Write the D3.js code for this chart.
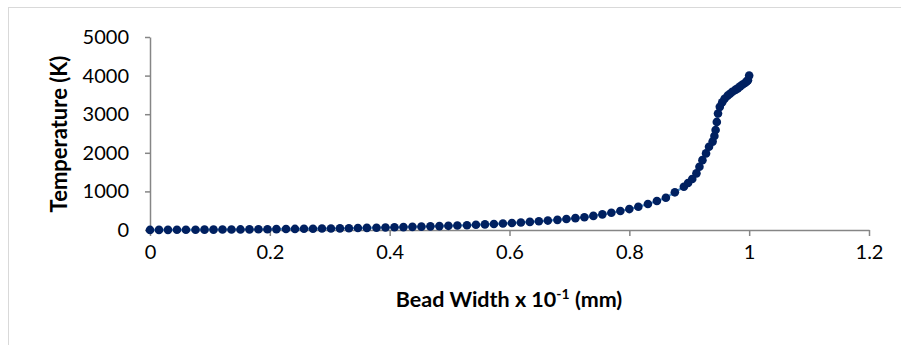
<!DOCTYPE html>
<html>
<head>
<meta charset="utf-8">
<script src="https://cdn.jsdelivr.net/npm/d3@7/dist/d3.min.js"></script>
<style>
  html, body { margin: 0; padding: 0; background: #fff; }
  svg { display: block; }
  text { font-family: Lato, "Open Sans", sans-serif; fill: #000; }
</style>
</head>
<body>
<svg id="chart" width="901" height="345"></svg>
<script>
// Bead width (x 10^-1 mm) and computed temperature (K) along the bead
const beadWidth = [
  0.000, 0.015, 0.030, 0.045, 0.060, 0.076, 0.091, 0.106, 0.121, 0.136,
  0.151, 0.166, 0.181, 0.196, 0.211, 0.227, 0.242, 0.257, 0.272, 0.287,
  0.302, 0.317, 0.332, 0.347, 0.362, 0.378, 0.393, 0.408, 0.423, 0.438,
  0.453, 0.468, 0.483, 0.498, 0.513, 0.529, 0.544, 0.559, 0.574, 0.589,
  0.604, 0.619, 0.634, 0.649, 0.664, 0.680, 0.695, 0.710, 0.725, 0.740,
  0.755, 0.770, 0.785, 0.800, 0.815, 0.831, 0.846, 0.861, 0.876, 0.891,
  0.898, 0.905, 0.912, 0.917, 0.922, 0.928, 0.933, 0.939, 0.942, 0.944,
  0.946, 0.948, 0.951, 0.955, 0.959, 0.964, 0.968, 0.972, 0.977, 0.981,
  0.985, 0.989, 0.993, 0.996, 0.998, 1.000
];
const temperature = [
  2, 3, 4, 5, 6, 8, 9, 10, 12, 13,
  15, 17, 19, 21, 23, 26, 28, 31, 34, 37,
  40, 43, 47, 51, 55, 60, 65, 70, 75, 81,
  87, 94, 101, 108, 116, 125, 135, 145, 156, 168,
  181, 195, 210, 226, 244, 263, 284, 307, 332, 365,
  405, 447, 492, 542, 603, 673, 751, 837, 976, 1121,
  1217, 1321, 1468, 1640, 1810, 1985, 2155, 2290, 2435, 2590,
  2800, 3020, 3190, 3310, 3400, 3480, 3530, 3580, 3630, 3670,
  3720, 3770, 3810, 3850, 3880, 4000
];

const xTicks = [0, 0.2, 0.4, 0.6, 0.8, 1, 1.2];
const xTickLabels = ["0", "0.2", "0.4", "0.6", "0.8", "1", "1.2"];
const yTicks = [0, 1000, 2000, 3000, 4000, 5000];
const yTickLabels = ["0", "1000", "2000", "3000", "4000", "5000"];

const points = beadWidth.map((w, i) => ({ x: w, y: temperature[i] }));

const svg = d3.select("#chart");

// chart area frame
svg.append("rect")
  .attr("x", 8.5).attr("y", 7.5)
  .attr("width", 1000).attr("height", 1000)
  .attr("fill", "none").attr("stroke", "#d9d9d9").attr("stroke-width", 1);

const x = d3.scaleLinear().domain([0, 1.2]).range([150, 869]);
const y = d3.scaleLinear().domain([0, 5000]).range([230, 37]);

const axisColor = "#868686";

const xAxis = svg.append("g")
  .attr("transform", `translate(0,${y(0)})`)
  .call(d3.axisBottom(x).tickValues(xTicks)
    .tickFormat((d, i) => xTickLabels[i]).tickSize(6).tickPadding(9).tickSizeOuter(0));

const yAxis = svg.append("g")
  .attr("transform", `translate(${x(0)},0)`)
  .call(d3.axisLeft(y).tickValues(yTicks)
    .tickFormat((d, i) => yTickLabels[i]).tickSize(5).tickPadding(16).tickSizeOuter(0));

[xAxis, yAxis].forEach(g => {
  g.select(".domain").attr("stroke", axisColor).attr("stroke-width", 1.5);
  g.selectAll(".tick line").attr("stroke", axisColor).attr("stroke-width", 1.5);
  g.selectAll(".tick text")
    .attr("font-family", "Lato, 'Open Sans', sans-serif")
    .attr("font-size", 20).attr("fill", "#000");
});

// connecting line under the markers
svg.append("path")
  .datum(points)
  .attr("fill", "none")
  .attr("stroke", "#5b9bd5")
  .attr("stroke-width", 2.25)
  .attr("d", d3.line().x(d => x(d.x)).y(d => y(d.y)));

svg.append("g").selectAll("circle")
  .data(points)
  .join("circle")
  .attr("cx", d => x(d.x))
  .attr("cy", d => y(d.y))
  .attr("r", 4.3)
  .attr("fill", "#002060");

// axis titles
svg.append("text")
  .attr("transform", "translate(67,134) rotate(-90)")
  .attr("text-anchor", "middle")
  .attr("font-size", 22)
  .attr("font-weight", "bold")
  .text("Temperature (K)");

const xt = svg.append("text")
  .attr("x", 509).attr("y", 307)
  .attr("text-anchor", "middle")
  .attr("font-size", 21.5)
  .attr("font-weight", "bold");
xt.append("tspan").text("Bead Width x 10");
xt.append("tspan").attr("font-size", 14).attr("dy", -8).text("-1");
xt.append("tspan").attr("dy", 8).text(" (mm)");
</script>
</body>
</html>
